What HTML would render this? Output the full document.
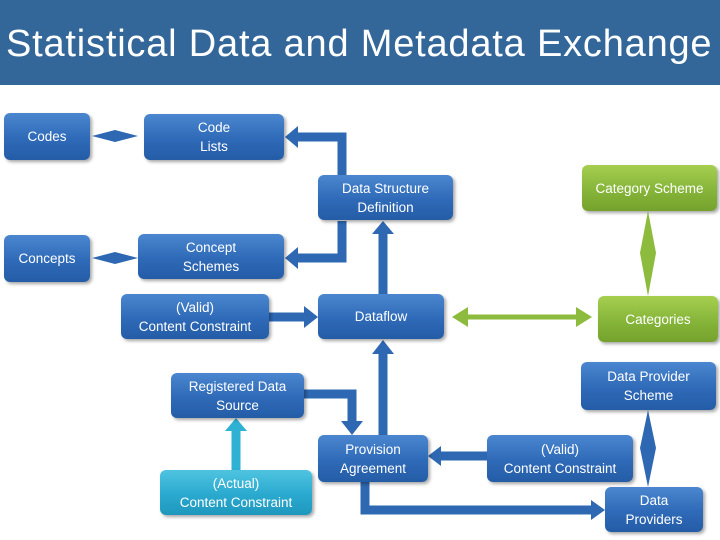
<!DOCTYPE html>
<html><head><style>
body{margin:0;width:720px;height:540px;background:#fff;position:relative;overflow:hidden;font-family:"Liberation Sans",sans-serif}
.t{position:absolute;left:0;top:0;width:720px;height:85px;background:#336699;color:#fff;font-size:38px;letter-spacing:0.8px;line-height:88px;padding-left:6px;box-sizing:border-box;white-space:nowrap}
.b{position:absolute;box-sizing:border-box;border-radius:6px;background:linear-gradient(#4b86cf,#2f6ab8 55%,#245ca6);color:#fff;font-size:13.5px;display:flex;align-items:center;justify-content:center;text-align:center;line-height:19px;box-shadow:2px 2px 3px rgba(0,0,0,.35)}
.g{background:linear-gradient(#a6cf4f,#86b53a 55%,#75a22c)}
.c{background:linear-gradient(#4fc4e0,#2aa9cf 55%,#1f97bd)}
svg{position:absolute;left:0;top:0}
</style></head><body>
<div class="t">Statistical Data and Metadata Exchange</div>
<svg width="720" height="540">
<g fill="none" stroke="#2e68b2" stroke-width="9">
<polyline points="342,175 342,137 296,137"/>
<polyline points="342,221 342,258 296,258"/>
<line x1="269" y1="317" x2="305" y2="317"/>
<line x1="383" y1="435" x2="383" y2="352"/>
<line x1="383" y1="294" x2="383" y2="232"/>
<polyline points="304,394 352,394 352,422"/>
<line x1="441" y1="456" x2="487" y2="456"/>
<polyline points="365,482 365,510 592,510"/>
</g>
<g fill="#2e68b2">
<polygon points="285,137 298,126 298,148"/>
<polygon points="285,258 298,247 298,269"/>
<polygon points="318,317 304,306 304,328"/>
<polygon points="383,340 372,354 394,354"/>
<polygon points="383,221 372,234 394,234"/>
<polygon points="352,435 341,421 363,421"/>
<polygon points="428,456 441,446 441,466"/>
<polygon points="605,510 591,500 591,520"/>
<polygon points="92,136 115,130 138,136 115,142"/>
<polygon points="92,258 115,252 138,258 115,264"/>
<polygon points="648,410 656,448 648,487 640,448"/>
</g>
<line x1="236" y1="470" x2="236" y2="430" stroke="#2fb1d4" stroke-width="9"/>
<polygon points="236,418 225,431 247,431" fill="#2fb1d4"/>
<line x1="466" y1="317" x2="578" y2="317" stroke="#8cbb3e" stroke-width="5"/>
<polygon points="452,317 468,307 468,327" fill="#8cbb3e"/>
<polygon points="592,317 576,307 576,327" fill="#8cbb3e"/>
<polygon points="648,211 656,253 648,296 640,253" fill="#8cbb3e"/>
</svg>
<div class="b" style="left:4px;top:113px;width:86px;height:47px">Codes</div>
<div class="b" style="left:144px;top:114px;width:140px;height:46px">Code<br>Lists</div>
<div class="b" style="left:318px;top:175px;width:135px;height:45px">Data Structure<br>Definition</div>
<div class="b" style="left:4px;top:235px;width:86px;height:47px">Concepts</div>
<div class="b" style="left:138px;top:234px;width:146px;height:45px">Concept<br>Schemes</div>
<div class="b" style="left:121px;top:294px;width:148px;height:45px">(Valid)<br>Content Constraint</div>
<div class="b" style="left:318px;top:294px;width:126px;height:45px">Dataflow</div>
<div class="b g" style="left:582px;top:165px;width:135px;height:46px">Category Scheme</div>
<div class="b g" style="left:598px;top:296px;width:120px;height:46px">Categories</div>
<div class="b" style="left:581px;top:362px;width:135px;height:48px">Data Provider<br>Scheme</div>
<div class="b" style="left:171px;top:373px;width:133px;height:45px">Registered Data<br>Source</div>
<div class="b" style="left:318px;top:435px;width:110px;height:47px">Provision<br>Agreement</div>
<div class="b" style="left:487px;top:435px;width:146px;height:47px">(Valid)<br>Content Constraint</div>
<div class="b c" style="left:160px;top:470px;width:152px;height:45px">(Actual)<br>Content Constraint</div>
<div class="b" style="left:605px;top:487px;width:98px;height:45px">Data<br>Providers</div>
</body></html>
